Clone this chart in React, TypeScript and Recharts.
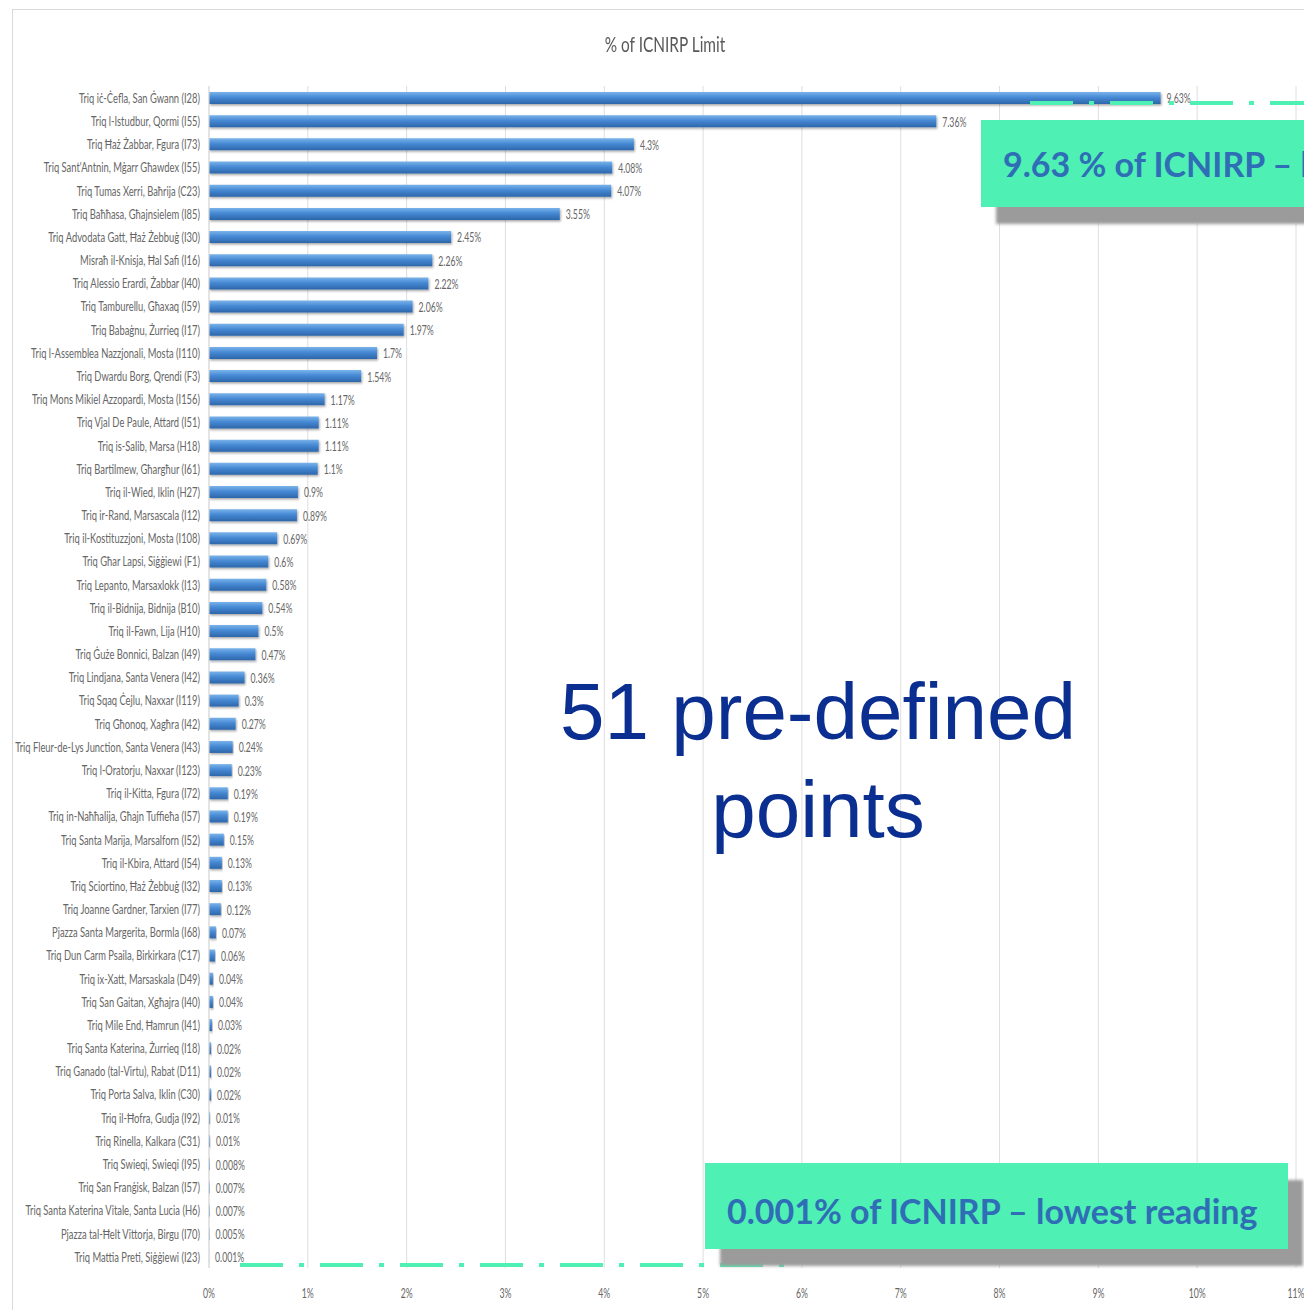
import React from 'react';
import { BarChart, Bar, XAxis, YAxis, CartesianGrid, LabelList } from 'recharts';

// measurement sites, ordered from highest to lowest reading
const sites = [
  'Triq iċ-Ċefla, San Ġwann (I28)',
  'Triq l-Istudbur, Qormi (I55)',
  'Triq Ħaż Żabbar, Fgura (I73)',
  "Triq Sant'Antnin, Mġarr Għawdex (I55)",
  'Triq Tumas Xerri, Baħrija (C23)',
  'Triq Baħħasa, Għajnsielem (I85)',
  'Triq Advodata Gatt, Ħaż Żebbuġ (I30)',
  'Misraħ il-Knisja, Ħal Safi (I16)',
  'Triq Alessio Erardi, Żabbar (I40)',
  'Triq Tamburellu, Għaxaq (I59)',
  'Triq Babaġnu, Żurrieq (I17)',
  'Triq l-Assemblea Nazzjonali, Mosta (I110)',
  'Triq Dwardu Borg, Qrendi (F3)',
  'Triq Mons Mikiel Azzopardi, Mosta (I156)',
  'Triq Vjal De Paule, Attard (I51)',
  'Triq is-Salib, Marsa (H18)',
  'Triq Bartilmew, Għargħur (I61)',
  'Triq il-Wied, Iklin (H27)',
  'Triq ir-Rand, Marsascala (I12)',
  'Triq il-Kostituzzjoni, Mosta (I108)',
  'Triq Għar Lapsi, Siġġiewi (F1)',
  'Triq Lepanto, Marsaxlokk (I13)',
  'Triq il-Bidnija, Bidnija (B10)',
  'Triq il-Fawn, Lija (H10)',
  'Triq Ġuże Bonnici, Balzan (I49)',
  'Triq Lindjana, Santa Venera (I42)',
  'Triq Sqaq Ċejlu, Naxxar (I119)',
  'Triq Għonoq, Xagħra (I42)',
  'Triq Fleur-de-Lys Junction, Santa Venera (I43)',
  "Triq l-Oratorju, Naxxar (I123)",
  'Triq il-Kitta, Fgura (I72)',
  'Triq in-Naħħalija, Għajn Tuffieħa (I57)',
  'Triq Santa Marija, Marsalforn (I52)',
  'Triq il-Kbira, Attard (I54)',
  'Triq Sciortino, Ħaż Żebbuġ (I32)',
  'Triq Joanne Gardner, Tarxien (I77)',
  'Pjazza Santa Margerita, Bormla (I68)',
  'Triq Dun Carm Psaila, Birkirkara (C17)',
  'Triq ix-Xatt, Marsaskala (D49)',
  'Triq San Gaitan, Xgħajra (I40)',
  'Triq Mile End, Ħamrun (I41)',
  'Triq Santa Katerina, Żurrieq (I18)',
  'Triq Ganado (tal-Virtu), Rabat (D11)',
  'Triq Porta Salva, Iklin (C30)',
  'Triq il-Ħofra, Gudja (I92)',
  'Triq Rinella, Kalkara (C31)',
  'Triq Swieqi, Swieqi (I95)',
  'Triq San Franġisk, Balzan (I57)',
  'Triq Santa Katerina Vitale, Santa Lucia (H6)',
  'Pjazza tal-Ħelt Vittorja, Birgu (I70)',
  'Triq Mattia Preti, Siġġiewi (I23)',
];

// % of ICNIRP limit
const readings = [
  9.63, 7.36, 4.3, 4.08, 4.07, 3.55, 2.45, 2.26, 2.22, 2.06,
  1.97, 1.7, 1.54, 1.17, 1.11, 1.11, 1.1, 0.9, 0.89, 0.69,
  0.6, 0.58, 0.54, 0.5, 0.47, 0.36, 0.3, 0.27, 0.24, 0.23,
  0.19, 0.19, 0.15, 0.13, 0.13, 0.12, 0.07, 0.06, 0.04, 0.04,
  0.03, 0.02, 0.02, 0.02, 0.01, 0.01, 0.008, 0.007, 0.007, 0.005,
  0.001,
];

const xTicks = [0, 1, 2, 3, 4, 5, 6, 7, 8, 9, 10, 11];

const data = sites.map((name, i) => ({ name, value: readings[i] }));

const LABEL_FONT = 'Lato, "Open Sans", sans-serif';
const SQUEEZE = 0.62;
const GREY_TEXT = '#666666';
const MINT = '#4ef0b3';

const CategoryTick = (props: any) => {
  const { x, y, payload } = props;
  return (
    <text
      transform={`translate(${x},${y}) scale(0.67,1)`}
      textAnchor="end"
      dominantBaseline="central"
      fontSize={14}
      fontFamily={LABEL_FONT}
      fill={GREY_TEXT}
    >
      {payload.value}
    </text>
  );
};

const PercentTick = (props: any) => {
  const { x, y, payload } = props;
  return (
    <text
      transform={`translate(${x},${y}) scale(${SQUEEZE},1)`}
      textAnchor="middle"
      dominantBaseline="central"
      fontSize={14}
      fontFamily={LABEL_FONT}
      fill={GREY_TEXT}
    >
      {payload.value}%
    </text>
  );
};

const ValueLabel = (props: any) => {
  const { x, y, width, height, value } = props;
  const tx = Number(x) + Number(width) + 6;
  const ty = Number(y) + Number(height) / 2;
  return (
    <text
      transform={`translate(${tx},${ty}) scale(${SQUEEZE},1)`}
      textAnchor="start"
      dominantBaseline="central"
      fontSize={14}
      fontFamily={LABEL_FONT}
      fill={GREY_TEXT}
    >
      {value}%
    </text>
  );
};

const calloutText: React.CSSProperties = {
  position: 'absolute',
  fontFamily: 'Lato, "Open Sans", sans-serif',
  fontWeight: 700,
  fontSize: 34,
  color: '#2f6db6',
  whiteSpace: 'nowrap',
  lineHeight: 1,
};

export default function App() {
  return (
    <div
      style={{
        position: 'fixed',
        left: 0,
        top: 0,
        width: 1304,
        height: 1310,
        overflow: 'hidden',
        background: '#ffffff',
      }}
    >
      {/* chart frame */}
      <div
        style={{
          position: 'absolute',
          left: 12,
          top: 9,
          width: 1320,
          height: 1320,
          border: '1px solid #d9d9d9',
        }}
      />
      <div
        style={{
          position: 'absolute',
          left: 565,
          top: 30,
          width: 200,
          textAlign: 'center',
          fontFamily: LABEL_FONT,
          fontSize: 22,
          color: '#595959',
          transform: `scaleX(${0.7})`,
          whiteSpace: 'nowrap',
        }}
      >
        % of ICNIRP Limit
      </div>

      <div style={{ position: 'absolute', left: 0, top: 0 }}>
        <BarChart
          width={1320}
          height={1310}
          data={data}
          layout="vertical"
          margin={{ top: 86, right: 24, bottom: 12, left: 0 }}
          barSize={12}
        >
          <defs>
            <linearGradient id="barFill" x1="0" y1="0" x2="0" y2="1">
              <stop offset="0%" stopColor="#7ab3ea" />
              <stop offset="45%" stopColor="#4689d4" />
              <stop offset="100%" stopColor="#2d66aa" />
            </linearGradient>
            <filter id="barShadow" x="-5%" y="-50%" width="110%" height="220%">
              <feDropShadow dx="1" dy="1.5" stdDeviation="1" floodColor="#000" floodOpacity="0.35" />
            </filter>
          </defs>
          <CartesianGrid horizontal={false} stroke="#dedede" />
          <XAxis
            type="number"
            domain={[0, 11]}
            ticks={xTicks}
            axisLine={false}
            tickLine={false}
            tickSize={0}
            tickMargin={25}
            height={30}
            tick={<PercentTick />}
            interval={0}
          />
          <YAxis
            type="category"
            dataKey="name"
            width={209}
            axisLine={{ stroke: '#d9d9d9' }}
            tickLine={false}
            tickSize={0}
            tickMargin={9}
            interval={0}
            tick={<CategoryTick />}
          />
          <Bar
            dataKey="value"
            fill="url(#barFill)"
            filter="url(#barShadow)"
            isAnimationActive={false}
          >
            <LabelList dataKey="value" content={<ValueLabel />} />
          </Bar>
        </BarChart>
      </div>

      {/* dash-dot guide lines */}
      <svg
        width={1304}
        height={1310}
        style={{ position: 'absolute', left: 0, top: 0, pointerEvents: 'none' }}
      >
        <line x1={1030} y1={103} x2={1304} y2={103} stroke={MINT} strokeWidth={4} strokeDasharray="43 16 5 16" />
        <line x1={240} y1={1265} x2={785} y2={1265} stroke={MINT} strokeWidth={4} strokeDasharray="43 16 5 16" />
      </svg>

      {/* callout: highest */}
      <div
        style={{
          position: 'absolute',
          left: 981,
          top: 120,
          width: 360,
          height: 87,
          background: MINT,
          boxShadow: '15px 17px 3px #9b9b9b',
        }}
      />
      <div style={{ ...calloutText, left: 1003, top: 147 }}>9.63 % of ICNIRP – highest reading</div>

      {/* callout: lowest */}
      <div
        style={{
          position: 'absolute',
          left: 705,
          top: 1163,
          width: 583,
          height: 86,
          background: MINT,
          boxShadow: '15px 17px 3px #9b9b9b',
        }}
      />
      <div style={{ ...calloutText, left: 727, top: 1194 }}>0.001% of ICNIRP – lowest reading</div>

      <div
        style={{
          position: 'absolute',
          left: 518,
          top: 663,
          width: 600,
          textAlign: 'center',
          fontFamily: '"Liberation Sans", Arial, sans-serif',
          fontSize: 80,
          lineHeight: '98px',
          color: '#0b2f91',
        }}
      >
        51 pre-defined
        <br />
        points
      </div>
    </div>
  );
}
